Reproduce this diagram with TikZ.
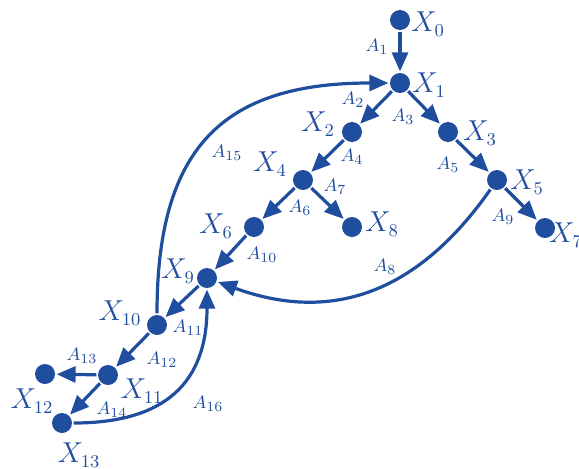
\documentclass[tikz,border=0pt]{standalone}
\usepackage{amsmath, amssymb}
\usetikzlibrary{arrows.meta}
\definecolor{netblue}{RGB}{32,78,158}

\begin{document}
\begin{tikzpicture}[x=0.5pt,y=0.5pt,netblue,line width=1.6pt,
    vertex/.style={circle,fill=netblue,inner sep=0pt,minimum size=10pt},
    xlab/.style={inner sep=0pt,font=\fontsize{13.5}{16}\selectfont},
    alab/.style={inner sep=0pt,font=\fontsize{9.5}{11}\selectfont},
    arc/.style={draw=netblue,-{Triangle[length=9.5pt,width=8pt]}}]
        \useasboundingbox (0,0) rectangle (579,468);
        \node[vertex] (x0) at (400,448) {};
        \node[vertex] (x1) at (400,385) {};
        \node[vertex] (x2) at (352,336) {};
        \node[vertex] (x3) at (448,336) {};
        \node[vertex] (x4) at (303,288) {};
        \node[vertex] (x5) at (497,288) {};
        \node[vertex] (x6) at (254,241) {};
        \node[vertex] (x7) at (545,240) {};
        \node[vertex] (x8) at (352,241) {};
        \node[vertex] (x9) at (207,190) {};
        \node[vertex] (x10) at (157,143) {};
        \node[vertex] (x11) at (108,93) {};
        \node[vertex] (x12) at (45,94) {};
        \node[vertex] (x13) at (62,45) {};
        \node[xlab] (lx0) at (428,444) {$X_0$};
        \node[xlab] (lx1) at (429,383) {$X_1$};
        \node[xlab] (lx2) at (318,344) {$X_2$};
        \node[xlab] (lx3) at (480,335) {$X_3$};
        \node[xlab] (lx4) at (270,304) {$X_4$};
        \node[xlab] (lx5) at (527,286) {$X_5$};
        \node[xlab] (lx6) at (216,242) {$X_6$};
        \node[xlab] (lx7) at (566,233) {$X_7$};
        \node[xlab] (lx8) at (382,244) {$X_8$};
        \node[xlab] (lx9) at (178,197) {$X_9$};
        \node[xlab] (lx10) at (120,155) {$X_{10}$};
        \node[xlab] (lx11) at (142,77) {$X_{11}$};
        \node[xlab] (lx12) at (32,67) {$X_{12}$};
        \node[xlab] (lx13) at (79,13) {$X_{13}$};
        \draw[arc] (x0) -- (x1);
        \draw[arc] (x1) -- (x2);
        \draw[arc] (x1) -- (x3);
        \draw[arc] (x2) -- (x4);
        \draw[arc] (x3) -- (x5);
        \draw[arc] (x4) -- (x6);
        \draw[arc] (x4) -- (x8);
        \draw[arc] (x5) -- (x7);
        \draw[arc] (x6) -- (x9);
        \draw[arc] (x5) to[out=235,in=-20,looseness=1.1] (x9);
        \draw[arc] (x9) -- (x10);
        \draw[arc] (x10) -- (x11);
        \draw[arc] (x11) -- (x12);
        \draw[arc] (x11) -- (x13);
        \draw[arc] (x10) to[out=90,in=180,looseness=1.3] (x1);
        \draw[arc] (x13) to[out=0,in=-90,looseness=1.25] (x9);
        \node[alab] (a1) at (377,421) {$A_1$};
        \node[alab] (a2) at (353,368) {$A_2$};
        \node[alab] (a3) at (403,351) {$A_3$};
        \node[alab] (a4) at (352,311) {$A_4$};
        \node[alab] (a5) at (448,303) {$A_5$};
        \node[alab] (a6) at (300,260) {$A_6$};
        \node[alab] (a7) at (335,281) {$A_7$};
        \node[alab] (a8) at (385,201) {$A_8$};
        \node[alab] (a9) at (503,251) {$A_9$};
        \node[alab] (a10) at (262,213) {$A_{10}$};
        \node[alab] (a11) at (188,140) {$A_{11}$};
        \node[alab] (a12) at (162,108) {$A_{12}$};
        \node[alab] (a13) at (82,112) {$A_{13}$};
        \node[alab] (a14) at (112,58) {$A_{14}$};
        \node[alab] (a15) at (227,315) {$A_{15}$};
        \node[alab] (a16) at (208,64) {$A_{16}$};
      \end{tikzpicture}
\end{document}
